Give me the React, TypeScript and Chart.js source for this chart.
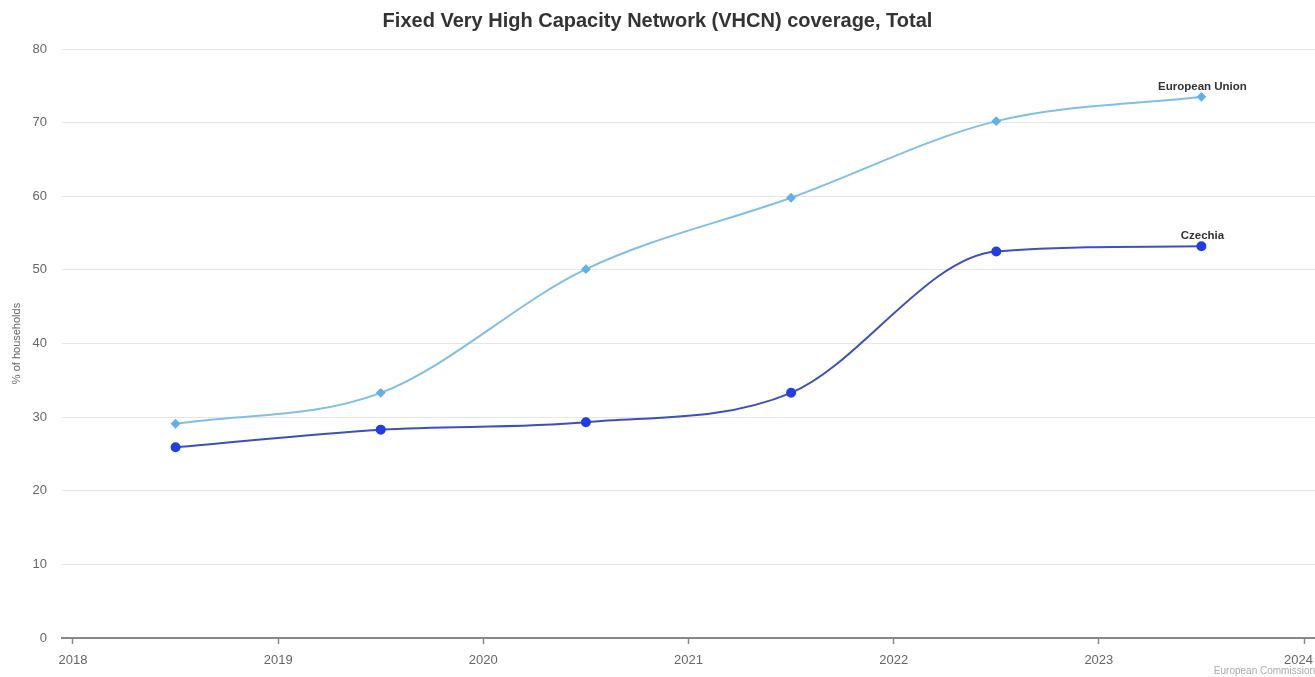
import React, { useEffect, useRef } from "react";
import { Chart, registerables } from "chart.js";

Chart.register(...registerables);

const TITLE = "Fixed Very High Capacity Network (VHCN) coverage, Total";
const Y_TITLE = "% of households";
const CREDIT = "European Commission";
const YEARS = [2018.5, 2019.5, 2020.5, 2021.5, 2022.5, 2023.5];
const X_TICKS = [2018, 2019, 2020, 2021, 2022, 2023, 2024];
const EU_LABEL = "European Union";
const EU_VALUES = [29.1, 33.3, 50.1, 59.8, 70.2, 73.5];
const CZ_LABEL = "Czechia";
const CZ_VALUES = [25.9, 28.3, 29.3, 33.3, 52.5, 53.2];

const FONT = "'Liberation Sans', Arial, sans-serif";

const endLabels = {
  id: "endLabels",
  afterDatasetsDraw(chart: any) {
    const ctx = chart.ctx;
    chart.data.datasets.forEach((ds: any, i: number) => {
      const meta = chart.getDatasetMeta(i);
      const pt = meta.data[meta.data.length - 1];
      if (!pt) return;
      ctx.save();
      ctx.font = `bold 11.5px ${FONT}`;
      ctx.fillStyle = "#333";
      ctx.textAlign = "center";
      ctx.textBaseline = "middle";
      ctx.fillText(ds.label, pt.x + 1, pt.y - 10);
      ctx.restore();
    });
  },
};

const xLabels = {
  id: "xLabels",
  afterDraw(chart: any) {
    const ctx = chart.ctx;
    const scale = chart.scales.x;
    ctx.save();
    ctx.font = `13px ${FONT}`;
    ctx.fillStyle = "#666";
    ctx.textAlign = "center";
    ctx.textBaseline = "middle";
    const y = chart.chartArea.bottom + 22;
    X_TICKS.forEach((v) => {
      const label = String(v);
      const w = ctx.measureText(label).width;
      let x = scale.getPixelForValue(v);
      if (x + w / 2 > chart.width - 2) x = chart.width - 2 - w / 2;
      ctx.fillText(label, x, y);
    });
    ctx.restore();
  },
};

export default function App() {
  const ref = useRef<HTMLCanvasElement>(null);
  useEffect(() => {
    if (!ref.current) return;
    const chart = new Chart(ref.current, {
      type: "line",
      data: {
        datasets: [
          {
            label: EU_LABEL,
            data: YEARS.map((x, i) => ({ x, y: EU_VALUES[i] })),
            borderColor: "#80bfe8",
            backgroundColor: "#62b0e8",
            pointBackgroundColor: "#62b0e8",
            pointBorderColor: "#62b0e8",
            pointStyle: "rectRot",
            pointRadius: 3.5,
            borderWidth: 2,
            cubicInterpolationMode: "monotone",
          },
          {
            label: CZ_LABEL,
            data: YEARS.map((x, i) => ({ x, y: CZ_VALUES[i] })),
            borderColor: "#3b50bf",
            backgroundColor: "#1f3fe3",
            pointBackgroundColor: "#1f3fe3",
            pointBorderColor: "#1f3fe3",
            pointStyle: "circle",
            pointRadius: 4,
            borderWidth: 2,
            cubicInterpolationMode: "monotone",
          },
        ],
      },
      options: {
        animation: false,
        responsive: true,
        maintainAspectRatio: false,
        layout: { padding: 0, autoPadding: false },
        plugins: {
          legend: { display: false },
          tooltip: { enabled: false },
          title: {
            display: true,
            text: TITLE,
            color: "#333",
            font: { family: FONT, size: 20, weight: "bold" },
            padding: { top: 9, bottom: 16 },
          },
          subtitle: {
            display: true,
            text: CREDIT,
            position: "bottom",
            align: "end",
            color: "#aaa",
            font: { family: FONT, size: 10 },
            padding: { top: 0, bottom: 0 },
          },
        },
        scales: {
          x: {
            type: "linear",
            min: 2017.9464,
            max: 2024.0536,
            afterBuildTicks: (scale: any) => {
              scale.ticks = X_TICKS.map((v) => ({ value: v }));
            },
            afterFit: (scale: any) => {
              scale.paddingLeft = 0;
              scale.paddingRight = 0;
              scale.height = 27;
            },
            ticks: { display: false },
            grid: {
              drawOnChartArea: false,
              drawTicks: true,
              tickLength: 6,
              color: "#888",
              tickWidth: 1.5,
            },
            border: { display: true, color: "#888", width: 2 },
          },
          y: {
            min: 0,
            max: 80,
            afterFit: (scale: any) => {
              scale.width = 62;
            },
            ticks: {
              stepSize: 10,
              color: "#666",
              font: { family: FONT, size: 13 },
              padding: 15,
            },
            grid: { color: "#e6e6e6", drawTicks: false },
            border: { display: false },
            title: {
              display: true,
              text: Y_TITLE,
              color: "#666",
              font: { family: FONT, size: 11 },
              padding: { top: 10, bottom: 0 },
            },
          },
        },
      },
      plugins: [endLabels, xLabels],
    } as any);
    return () => chart.destroy();
  }, []);
  return (
    <div style={{ position: "absolute", left: 0, top: 0, width: 1315, height: 677, background: "#fff" }}>
      <canvas ref={ref} />
    </div>
  );
}
